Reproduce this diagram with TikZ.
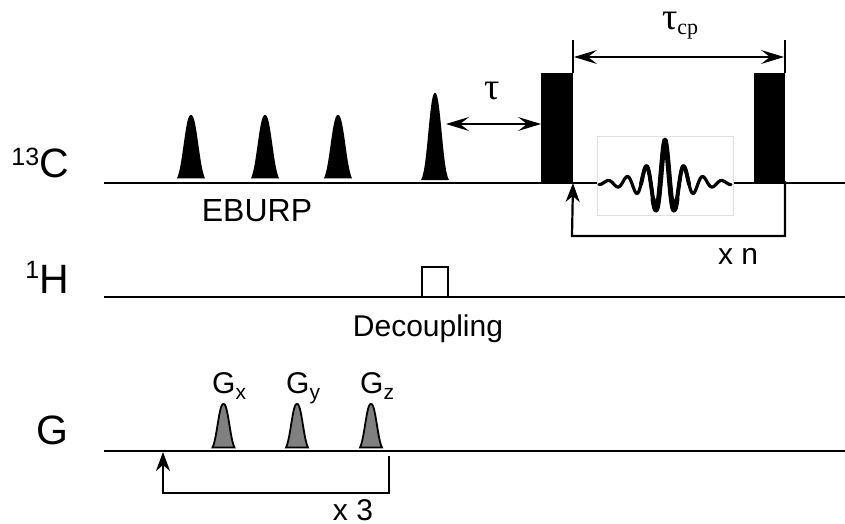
\documentclass[tikz,border=0pt]{standalone}
\usepackage{fontspec}
\setmainfont{Liberation Sans}
\newfontfamily\taufont{Liberation Serif}
\usetikzlibrary{arrows.meta}

\newcommand{\sizedfont}[1]{\fontsize{#1}{#1}\selectfont}
\newcommand{\gradname}[1]{G\raisebox{-6pt}{\sizedfont{21}#1}}
\newcommand{\bellheight}[3]{#1*exp(-pow((abs(#3)+0.01)/#2,2.4))}

\tikzset{
	channel/.style={line width=2.2pt, color=black},
	block/.style={fill=black, draw=none, minimum width=32pt, minimum height=110pt, inner sep=0pt, outer sep=0pt, anchor=south west},
	guide/.style={line width=1.5pt},
	span/.style={line width=2pt, {Stealth[length=23pt,width=14pt,inset=9pt]}-{Stealth[length=23pt,width=14pt,inset=9pt]}},
	loopline/.style={line width=2.2pt, color=black, line join=miter, {Stealth[length=19pt,width=14pt,inset=6pt]}-},
	label/.style={inner sep=0pt, font=\sizedfont{30}},
	nucleus/.style={inner sep=0pt, font=\sizedfont{41}},
}

\begin{document}
\begin{tikzpicture}[x=1pt, y=-1pt]
	\useasboundingbox (0,0) rectangle (845,524);
	% Kanaele
	\coordinate (cStart) at (104,183);
	\coordinate (cEnd) at (845,183);
	\coordinate (hStart) at (104,297);
	\coordinate (hEnd) at (845,297);
	\coordinate (gStart) at (104,451);
	\coordinate (gEnd) at (845,451);
	\draw[channel] (cStart) -- (cEnd);
	\draw[channel] (hStart) -- (hEnd);
	\draw[channel] (gStart) -- (gEnd);
	% Kanalnamen
	\node[nucleus, anchor=base east] (labelC) at (69,177.5) {\raisebox{12pt}{\sizedfont{25}13}C};
	\node[nucleus, anchor=base east] (labelH) at (69,293) {\raisebox{15pt}{\sizedfont{25}1}H};
	\node[nucleus, anchor=base east] (labelG) at (69,444.5) {G};
	% EBURP Pulse
	\foreach \c/\h/\w in {191/68/9.3,265/68/9.3,338/68/9.3,435/90/8.4}
		\fill[black] plot[smooth, samples=41, domain=-14:14] ({\c+\x}, {183-\bellheight{\h}{\w}{\x}}) -- cycle;
	\node[label, font=\sizedfont{32}] (eburp) at (257,211) {EBURP};
	% Rechteckpulse
	\node[block] (blockA) at (541,183) {};
	\node[block, minimum width=31pt] (blockB) at (754,183) {};
	\draw[guide] (blockA.north east) -- ++(0,-33) coordinate (tickA);
	\draw[guide] (blockB.north east) -- ++(0,-33) coordinate (tickB);
	% Zeiten
	\coordinate (tauLeft) at (446,124);
	\coordinate (tauRight) at (blockA.west |- tauLeft);
	\draw[span] (tauLeft) -- (tauRight);
	\node[inner sep=0pt, font=\taufont\sizedfont{38}] (tauLabel) at (492.5,91) {τ};
	\coordinate (cpLeft) at (574,57);
	\coordinate (cpRight) at (784,57);
	\draw[span] (cpLeft) -- (cpRight);
	\node[inner sep=0pt, anchor=base west, font=\taufont\sizedfont{38}] (cpLabel) at (662,30) {τ\raisebox{-5pt}{\sizedfont{22}cp}};
	% Spinlock
	\node[draw=black!12, fill=white, line width=0.6pt, minimum width=136pt, minimum height=79pt, inner sep=0pt] (waveBox) at (665,175.5) {};
	\foreach \lw/\r/\n in {3.2/66/161,4/24/81,5/12/41}
		\draw[line width=\lw pt, line cap=round, line join=round] plot[smooth, samples=\n, domain=-\r:\r] ({665+\x}, {183-43*exp(-abs(\x)/20)*cos(180*\x/9.5)});
	% Schleife n
	\coordinate (loopC) at (blockA.south east);
	\coordinate (loopCEnd) at ([yshift=2pt]blockB.south east);
	\draw[loopline] (loopC) -- (572,236) -- (785,236) -- (loopCEnd);
	\node[label] (timesN) at (738,256) {x n};
	% Entkopplung
	\node[draw=black, line width=1.6pt, fill=white, minimum width=26pt, minimum height=30pt, inner sep=0pt, outer sep=0pt, anchor=south] (decBox) at (435,297) {};
	\node[label] (decoupling) at (428,329) {Decoupling};
	% Gradienten
	\foreach \c in {223.5,297,371}
		\filldraw[fill=black!50, draw=black, line width=1.8pt] plot[smooth, samples=31, domain=-11:11] ({\c+\x}, {451-\bellheight{47}{7.4}{\x}}) -- cycle;
	\node[label, anchor=base west] (gradX) at (212,393) {\gradname{x}};
	\node[label, anchor=base west] (gradY) at (286,393) {\gradname{y}};
	\node[label, anchor=base west] (gradZ) at (360,393) {\gradname{z}};
	% Schleife 3
	\coordinate (loopG) at (163,452);
	\coordinate (loopGEnd) at (389,456);
	\draw[loopline] (loopG) -- (163,493) -- (389,493) -- (loopGEnd);
	\node[label] (timesThree) at (353,510.5) {x 3};
\end{tikzpicture}
\end{document}
